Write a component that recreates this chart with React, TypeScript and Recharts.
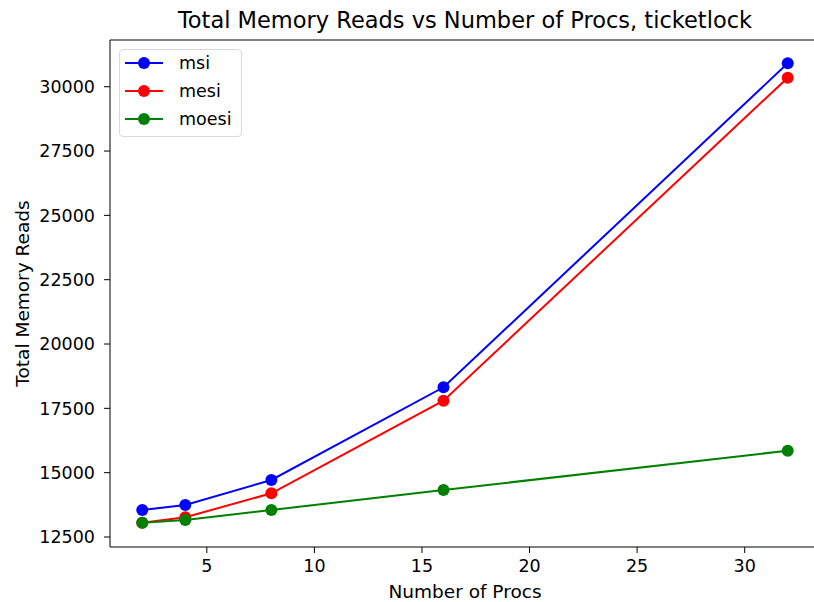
import React from "react";
import { LineChart, Line, XAxis, YAxis, ReferenceLine } from "recharts";

const procs = [2, 4, 8, 16, 32];
const msi = [13549, 13744, 14715, 18318, 30911];
const mesi = [13056, 13266, 14198, 17797, 30351];
const moesi = [13056, 13160, 13549, 14327, 15854];
const xTicks = [5, 10, 15, 20, 25, 30];
const yTicks = [12500, 15000, 17500, 20000, 22500, 25000, 27500, 30000];

const series = [
  { key: "msi", color: "#0000ff" },
  { key: "mesi", color: "#ff0000" },
  { key: "moesi", color: "#008000" },
];

const data = procs.map((p, i) => ({ procs: p, msi: msi[i], mesi: mesi[i], moesi: moesi[i] }));

const font = "'DejaVu Sans', sans-serif";
const X_DOMAIN: [number, number] = [0.5, 33.5];
const Y_DOMAIN: [number, number] = [12111, 31816];

function LegendBox() {
  return (
    <div
      style={{
        position: "absolute",
        left: 119,
        top: 49,
        width: 123,
        height: 88,
        boxSizing: "border-box",
        border: "1px solid #d9d9d9",
        borderRadius: 4,
        background: "#fff",
        fontFamily: font,
        fontSize: 17.5,
      }}
    >
      {series.map((s, i) => (
        <div
          key={s.key}
          style={{ position: "absolute", top: 6 + i * 28, left: 5, display: "flex", alignItems: "center", height: 14 }}
        >
          <svg width={40} height={14} style={{ flex: "none" }}>
            <line x1={0} y1={7} x2={38} y2={7} stroke={s.color} strokeWidth={2} />
            <circle cx={19} cy={7} r={6} fill={s.color} />
          </svg>
          <span style={{ marginLeft: 14, color: "#000", lineHeight: "14px" }}>{s.key}</span>
        </div>
      ))}
    </div>
  );
}

export default function App() {
  return (
    <div style={{ position: "fixed", left: 0, top: 0, width: 814, height: 602, overflow: "hidden", background: "#fff" }}>
      <div
        style={{
          position: "absolute",
          top: 7,
          left: 110,
          width: 710,
          textAlign: "center",
          fontFamily: font,
          fontSize: 22.5,
          color: "#000",
          whiteSpace: "nowrap",
        }}
      >
        Total Memory Reads vs Number of Procs, ticketlock
      </div>
      <LineChart width={830} height={602} data={data} margin={{ top: 40, right: 10, left: 0, bottom: 0 }}>
        <XAxis
          dataKey="procs"
          type="number"
          domain={X_DOMAIN}
          ticks={xTicks}
          allowDataOverflow
          height={55}
          stroke="#000"
          tickSize={6}
          tickMargin={7}
          tick={{ fill: "#000", fontSize: 17.5, fontFamily: font }}
          label={{ value: "Number of Procs", position: "insideBottom", offset: 4, fill: "#000", fontSize: 18.5, fontFamily: font }}
        />
        <YAxis
          type="number"
          domain={Y_DOMAIN}
          ticks={yTicks}
          allowDataOverflow
          width={110}
          stroke="#000"
          tickSize={6}
          tickMargin={9}
          tick={{ fill: "#000", fontSize: 17.5, fontFamily: font }}
          label={{
            value: "Total Memory Reads",
            angle: -90,
            position: "insideLeft",
            offset: 22,
            style: { textAnchor: "middle" },
            fill: "#000",
            fontSize: 18.5,
            fontFamily: font,
          }}
        />
        <ReferenceLine y={Y_DOMAIN[1]} stroke="#000" strokeWidth={1} />
        {series.map((s) => (
          <Line
            key={s.key}
            dataKey={s.key}
            stroke={s.color}
            strokeWidth={2}
            dot={{ r: 6, fill: s.color, stroke: "none" }}
            activeDot={false}
            isAnimationActive={false}
          />
        ))}
      </LineChart>
      <LegendBox />
    </div>
  );
}
